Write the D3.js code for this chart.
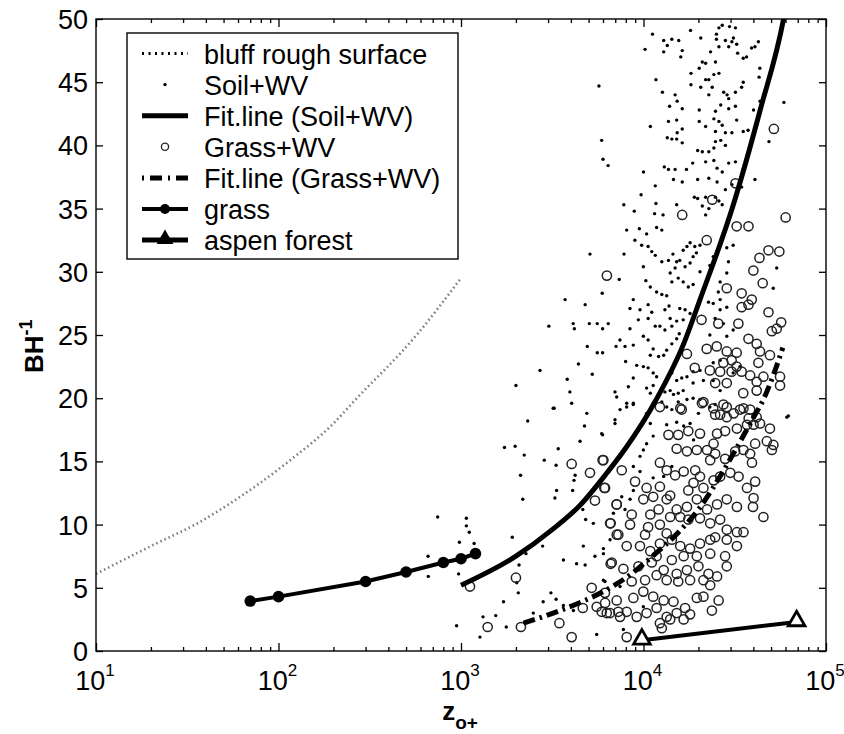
<!DOCTYPE html>
<html>
<head>
<meta charset="utf-8">
<script src="https://cdn.jsdelivr.net/npm/d3@7"></script>
<style>
  body { margin: 0; background: #fff; }
  svg text { font-family: "Liberation Sans", Arial, Helvetica, sans-serif; fill: #000; }
</style>
</head>
<body>
<svg id="chart" width="844" height="734"></svg>
<script>
// ---- data ----
var xTicks = [10, 100, 1000, 10000, 100000];
var xExponents = ["1", "2", "3", "4", "5"];
var yTicks = [0, 5, 10, 15, 20, 25, 30, 35, 40, 45, 50];

var legendLabels = ["bluff rough surface", "Soil+WV", "Fit.line (Soil+WV)", "Grass+WV",
  "Fit.line (Grass+WV)", "grass", "aspen forest"];

// [z_o+, BH^-1]
var bluff = [[10, 6.1], [20, 8.3], [37, 10.2], [56, 11.8], [116, 15.1], [200, 18.0],
  [257, 19.7], [571, 25.0], [1000, 29.5]];

var soilFit = [[1000, 5.2], [2000, 7.5], [3160, 9.6], [4470, 11.5], [6310, 14.1], [7940, 16.0],
  [11750, 19.9], [16600, 24.3], [20400, 27.8], [30900, 35.2], [43600, 42.8], [58900, 50.2], [62000, 52]];

var grassFit = [[2200, 2.2], [3200, 3.0], [4600, 3.9], [6200, 4.8], [8400, 6.0], [11000, 7.4],
  [15800, 9.5], [20000, 11.2], [25000, 13.3], [31600, 15.8], [39800, 18.4], [45400, 19.9],
  [51400, 21.8], [58000, 24.0]];

var grassObs = [[70, 3.95], [100, 4.3], [300, 5.5], [500, 6.25], [800, 7.0], [1000, 7.3], [1200, 7.7]];

var aspen = [[9800, 0.85], [69000, 2.3]];

var soilWV = [
  [11200,48.8],[10200,47.6],[12900,48.3],[14300,48.4],[15600,48.3],[13500,47.9],[12900,47.4],[16300,47.5],
  [16000,47.0],[18100,49.1],[20600,48.5],[23300,47.4],[25100,48.8],[25100,48.4],[25900,49.3],[27000,49.5],
  [29600,49.4],[31900,49.3],[28100,48.3],[29300,47.8],[30500,48.2],[32400,48.0],[31100,48.5],[32800,47.3],
  [35200,46.9],[36700,47.0],[39100,47.7],[40800,47.8],[42600,48.2],[25900,47.8],[21000,46.6],[21900,46.5],
  [24800,46.6],[20200,46.1],[18200,45.7],[21900,45.2],[22800,45.2],[24300,45.6],[25900,45.7],[20600,44.6],
  [23800,44.6],[18200,44.8],[22800,44.0],[27500,44.2],[28700,44.0],[29300,43.7],[31900,44.2],[35200,45.0],
  [34500,44.6],[31900,43.1],[26500,43.2],[29300,42.9],[24800,42.7],[20200,42.8],[15300,43.5],[16300,42.9],
  [13900,43.1],[14900,44.0],[11700,45.2],[12700,44.2],[5700,44.7],[10900,41.5],[13700,41.9],[15200,42.0],
  [16300,41.3],[20200,41.9],[21900,41.5],[24300,42.1],[25900,41.9],[27000,41.6],[24800,41.1],[28100,41.0],
  [30500,41.0],[32400,42.0],[35200,41.1],[37400,41.2],[40100,42.8],[43500,43.5],[43000,45.4],[43400,46.1],
  [58800,43.4],[13500,40.6],[14300,40.5],[15200,40.5],[15300,41.0],[16300,40.2],[19800,39.6],[21000,39.5],
  [22800,39.5],[24300,39.8],[24800,40.3],[26500,40.4],[28100,40.0],[21900,38.7],[24300,38.8],[25300,38.2],
  [27000,37.9],[29300,38.6],[31900,38.7],[35200,38.1],[18600,38.6],[17200,38.1],[14900,38.1],[13700,38.1],
  [13000,38.3],[10000,37.9],[5900,40.4],[6000,38.9],[6400,38.4],[11600,36.8],[14600,37.3],[16300,37.1],
  [19800,37.3],[22800,37.4],[25300,37.1],[28100,36.5],[30500,36.9],[34500,36.7],[40800,37.3],[48700,40.3],
  [19000,35.9],[19800,35.8],[21900,35.9],[24800,35.9],[25900,35.6],[27000,35.3],[22800,35.0],[21000,35.2],
  [21900,34.5],[15200,35.3],[11700,35.4],[9700,36.1],[7800,35.3],[8900,34.8],[11500,34.6],[12800,34.5],
  [8090,33.3],[9490,33.4],[10400,33.0],[11800,33.5],[12600,33.3],[8970,32.5],[9770,32.1],[10600,32.0],
  [11100,31.6],[11600,31.3],[12600,30.8],[13700,30.9],[14500,31.4],[15200,30.8],[15800,30.9],[16500,31.7],
  [17300,32.0],[18000,32.3],[19100,32.0],[20400,32.1],[19500,31.5],[18700,31.2],[18000,30.7],[16900,30.4],
  [14900,30.3],[14000,29.9],[14300,29.2],[15500,29.5],[16500,29.2],[17600,28.8],[18700,29.0],[20400,30.0],
  [23100,30.5],[24100,31.2],[25200,31.6],[26300,32.1],[28600,31.9],[31000,32.1],[29200,30.8],[28600,29.9],
  [26300,29.2],[25700,28.4],[26300,27.8],[28600,27.2],[26300,27.0],[24100,27.5],[22700,27.6],[24700,26.3],
  [27400,25.9],[31000,25.4],[23100,25.0],[5090,31.4],[7820,31.4],[7360,29.4],[9980,30.4],[10300,29.3],
  [10900,28.8],[11800,28.4],[12600,28.2],[13400,28.1],[13800,27.3],[13100,27.0],[15800,27.1],[16900,27.0],
  [18000,26.7],[16500,26.2],[15200,26.1],[14000,26.3],[14300,25.7],[13100,25.4],[12300,25.7],[11600,25.7],
  [10600,26.3],[11100,26.8],[10600,27.4],[9570,27.0],[8790,27.8],[8430,27.1],[9370,26.2],[8430,25.5],
  [7430,24.6],[7070,24.1],[7920,24.1],[8790,24.2],[9980,24.9],[10600,24.6],[11300,23.9],[10900,23.4],
  [12100,23.3],[12900,23.4],[13400,23.8],[14300,24.3],[15200,24.7],[15700,25.1],[5940,28.3],[3720,27.8],
  [4790,27.4],[3030,25.7],[4120,25.9],[4180,25.5],[5050,25.9],[5580,25.9],[5970,25.5],[6410,25.9],
  [4920,24.1],[5580,23.6],[5970,23.6],[4400,22.7],[5240,21.9],[7980,22.9],[9180,22.6],[9980,22.5],
  [10600,22.4],[11300,22.0],[11800,21.7],[14300,22.0],[15200,21.4],[16200,21.6],[17300,21.7],[18700,22.1],
  [20400,22.2],[21300,21.4],[18700,21.2],[16500,20.6],[15500,20.4],[14600,20.3],[14000,20.6],[13100,20.5],
  [11300,21.0],[10400,20.8],[10900,20.4],[11300,19.6],[12600,19.7],[13400,19.3],[14300,19.1],[15500,19.7],
  [17300,19.9],[18700,20.0],[20400,19.9],[2710,22.2],[3820,21.5],[2000,21.0],[3950,20.5],[3240,19.2],
  [4040,19.6],[4890,18.8],[6980,20.5],[7130,20.1],[8090,19.6],[8790,19.5],[8790,21.6],[8260,20.9],
  [20000,18.8],[23100,19.3],[24700,19.5],[26300,20.6],[24100,21.4],[24100,22.8],[26300,23.0],[28600,24.9],
  [31000,22.0],[33800,22.5],[51400,28.7],[53700,30.3],[61000,18.5],
  [3200,19.2],[6980,18.0],[4750,17.8],[2320,18.2],[4490,16.6],[5970,17.1],[1730,16.1],[1980,16.2],
  [2220,15.5],[2860,15.1],[3410,16.0],[3320,14.7],[4220,13.9],[4160,13.5],[2120,13.9],[3340,12.7],
  [4090,12.7],[2180,12.0],[3270,12.1],[745,10.6],[1070,10.5],[1070,9.9],[1110,9.4],[980,8.6],
  [660,7.5],[970,6.1],[1910,9.0],[2800,8.3],[2270,7.7],[4650,11.2],[4820,10.4],[5310,10.1],
  [4680,8.3],[6030,7.7],[5420,7.5],[4300,6.9],[4790,6.8],[3640,7.2],[2080,6.8],[2060,4.6],
  [2020,5.4],[3110,4.6],[3320,4.1],[1710,3.9],[1550,2.8],[1320,2.7],[946,2.0],[1270,1.1],
  [1770,1.9],[2490,3.0],[2820,3.9],[3640,3.6],[4130,3.2],[5540,1.3],[6150,5.5],[662,5.9],[1180,8.5],
  [5900,17.2],[6980,18.3],[7440,19.1],[8090,19.3],[8800,19.6],[10400,18.8],[10900,18.0],[11300,17.0],
  [9980,15.9],[8800,14.6],[9570,14.2],[11300,13.7],[12900,13.8],[14300,14.6],[8800,12.7],[7600,12.2],
  [8440,12.0],[6840,10.9],[7920,11.2],[6030,8.1],[6560,8.8],[6030,5.6],[7440,5.1],[9980,3.5],
  [7760,1.7],[62200,18.6],[13400,17.9],[15200,18.1],[16600,17.8],[18000,18.0],[18800,16.7],[10400,16.4],[9570,15.4]
];

var grassWV = [
  [16300,34.5],[23800,35.7],[31900,37.0],[51800,41.3],[60100,34.3],
  [6300,29.7],[22200,32.5],[32400,33.6],[37600,33.6],[43200,31.1],[48400,31.7],[55500,31.6],[40000,30.1],
  [45000,29.1],[28600,28.7],[34500,28.3],[39200,27.8],[34500,27.2],[37600,27.4],[48400,26.8],[20800,26.2],
  [25700,25.9],[33100,25.9],[56800,26.0],[53700,25.5],[50500,25.3],[37600,24.7],[41700,24.3],[22200,23.9],
  [25200,24.1],[17300,23.5],[28600,23.7],[32400,23.6],[43500,23.7],[49300,23.4],[30400,23.0],[27400,22.8],
  [32400,22.5],[42600,22.8],[19100,22.4],[23100,22.2],[26300,22.1],[30400,22.1],[34500,22.1],[38400,21.8],
  [45400,21.7],[56000,21.7],[24700,21.2],[28600,21.2],[41700,21.3],[56000,21.0],[35200,20.4],[41700,20.6],
  [21300,19.7],[24100,19.2],[27400,19.5],[33800,19.1],[38400,19.1],[16200,19.1],[26300,18.7],[28600,18.5],
  [41700,18.5],[49300,17.6],
  [4040,14.8],[5090,14.1],[5970,15.1],[6100,12.9],[5420,11.9],[7130,11.6],[6610,10.1],[7130,9.2],
  [6610,6.9],[2000,5.8],[1120,5.1],[5200,5.0],[6150,4.6],[5540,3.5],[5900,3.1],[6550,3.0],
  [7280,3.1],[4650,3.4],[3460,2.2],[2130,1.9],[1400,1.9],[4040,1.1],
  [20900,19.6],[24700,18.7],[28600,19.3],[31200,18.8],[35300,19.2],[37700,18.4],[40100,17.9],[43500,18.0],
  [15900,19.2],[12300,19.3],[13700,17.1],[15500,17.1],[17600,17.4],[20400,17.2],[25300,17.2],[28000,17.4],
  [32500,17.6],[36900,17.9],[40900,16.4],[47400,16.6],[51500,16.3],[50500,15.9],[24200,16.4],[15200,16.0],
  [17300,15.8],[19600,15.9],[22300,15.9],[24700,15.6],[28000,15.2],[31800,15.8],[35300,15.9],[38400,15.6],
  [39300,14.9],[23200,15.1],[6030,15.1],[7600,14.3],[12300,14.9],[13400,14.3],[14900,13.9],[16600,14.2],
  [19200,14.3],[20400,13.8],[18800,13.3],[17600,12.7],[21300,12.9],[24200,13.5],[26300,13.8],[29900,14.1],
  [33200,13.8],[36900,12.9],[40900,13.4],[6160,12.9],[8990,13.4],[10400,12.9],[12300,13.0],[14000,12.3],
  [7130,11.6],[8620,10.8],[9980,12.0],[11300,12.2],[13400,12.0],[15200,11.2],[17300,11.4],[19600,12.0],
  [22300,11.2],[25300,11.6],[28600,12.0],[32500,11.4],[40100,12.1],[39800,11.4],[45400,10.6],[6560,10.1],
  [7280,9.2],[8440,10.0],[10900,10.8],[12100,11.2],[10600,9.8],[12300,10.0],[14000,10.6],[15900,10.6],
  [17600,10.4],[20400,10.5],[23200,10.1],[26300,10.4],[28600,9.6],[32500,9.4],[35300,9.4],[10200,9.2],
  [13400,9.3],[8090,8.3],[9570,8.3],[10900,7.9],[12300,8.5],[14300,8.8],[15900,8.3],[18000,8.1],
  [20400,8.5],[23200,8.8],[24700,9.0],[28600,8.8],[32500,8.3],[11800,7.5],[14300,7.2],[16600,7.5],
  [19600,7.5],[23200,7.7],[28000,7.5],[6700,7.0],[7760,6.5],[9380,6.7],[11100,7.0],[12900,6.4],
  [15200,6.1],[17300,6.4],[20000,6.7],[22700,6.1],[25300,5.9],[28600,6.7],[8620,5.5],[10200,5.6],
  [11800,6.0],[13400,5.6],[15500,5.5],[18000,5.6],[21300,5.6],[23200,5.2],[6160,3.8],[7130,4.0],
  [8800,4.2],[9980,4.7],[11300,4.3],[12900,4.0],[14600,3.9],[16900,3.4],[19600,4.2],[21300,4.3],
  [25800,4.0],[23700,3.2],[6290,3.0],[8090,3.1],[9180,2.7],[10400,3.0],[11800,3.4],[13400,2.7],
  [15200,3.0],[18000,2.9],[16600,2.5],[12300,2.2],[12600,1.8],[8090,1.1],[7440,2.7],[14000,2.5]
];

// ---- layout ----
var plotL = 96, plotR = 826, plotT = 19, plotB = 651;

var svg = d3.select("#chart");

var x = d3.scaleLog().domain([10, 100000]).range([plotL, plotR]);
var y = d3.scaleLinear().domain([0, 50]).range([plotB, plotT]);

svg.append("defs").append("clipPath").attr("id", "plotclip")
  .append("rect").attr("x", plotL).attr("y", plotT)
  .attr("width", plotR - plotL).attr("height", plotB - plotT);

var plot = svg.append("g").attr("clip-path", "url(#plotclip)");

var line = d3.line()
  .x(function (d) { return x(d[0]); })
  .y(function (d) { return y(d[1]); });
var smooth = d3.line()
  .x(function (d) { return x(d[0]); })
  .y(function (d) { return y(d[1]); })
  .curve(d3.curveMonotoneX);

// bluff rough surface (grey dotted)
plot.append("path").datum(bluff)
  .attr("d", smooth)
  .attr("fill", "none").attr("stroke", "#7a7a7a")
  .attr("stroke-width", 2.6).attr("stroke-dasharray", "1.5,3");

// Soil+WV points
plot.append("g").selectAll("circle").data(soilWV).enter().append("circle")
  .attr("cx", function (d) { return x(d[0]); })
  .attr("cy", function (d) { return y(d[1]); })
  .attr("r", 1.7).attr("fill", "#000");

// Grass+WV open circles
plot.append("g").selectAll("circle").data(grassWV).enter().append("circle")
  .attr("cx", function (d) { return x(d[0]); })
  .attr("cy", function (d) { return y(d[1]); })
  .attr("r", 4.6).attr("fill", "none")
  .attr("stroke", "#222").attr("stroke-width", 1.5);

// fit lines
plot.append("path").datum(soilFit)
  .attr("d", smooth)
  .attr("fill", "none").attr("stroke", "#000").attr("stroke-width", 5);

plot.append("path").datum(grassFit)
  .attr("d", smooth)
  .attr("fill", "none").attr("stroke", "#000").attr("stroke-width", 5)
  .attr("stroke-dasharray", "12,5,2.5,5");

// grass observations
plot.append("path").datum(grassObs)
  .attr("d", line)
  .attr("fill", "none").attr("stroke", "#000").attr("stroke-width", 4);
plot.append("g").selectAll("circle").data(grassObs).enter().append("circle")
  .attr("cx", function (d) { return x(d[0]); })
  .attr("cy", function (d) { return y(d[1]); })
  .attr("r", 5.8).attr("fill", "#000");

// aspen forest
plot.append("path").datum(aspen)
  .attr("d", line)
  .attr("fill", "none").attr("stroke", "#000").attr("stroke-width", 4);
var tri = d3.symbol().type(d3.symbolTriangle).size(120);
plot.append("g").selectAll("path").data(aspen).enter().append("path")
  .attr("d", tri)
  .attr("transform", function (d) { return "translate(" + x(d[0]) + "," + (y(d[1]) - 1) + ")"; })
  .attr("fill", "#fff").attr("stroke", "#000").attr("stroke-width", 2.8);

// ---- axes (MATLAB box with inward ticks) ----
var minor = x.ticks().filter(function (v) { return xTicks.indexOf(v) < 0; });

function styleAxis(g) {
  g.select(".domain").remove();
  g.selectAll("line").attr("stroke", "#000").attr("stroke-width", 1.3);
  g.selectAll("text").remove();
}

svg.append("g").attr("transform", "translate(0," + plotB + ")")
  .call(d3.axisBottom(x).tickValues(xTicks).tickSize(-8)).call(styleAxis);
svg.append("g").attr("transform", "translate(0," + plotB + ")")
  .call(d3.axisBottom(x).tickValues(minor).tickSize(-4)).call(styleAxis);
svg.append("g").attr("transform", "translate(0," + plotT + ")")
  .call(d3.axisTop(x).tickValues(xTicks).tickSize(-8)).call(styleAxis);
svg.append("g").attr("transform", "translate(0," + plotT + ")")
  .call(d3.axisTop(x).tickValues(minor).tickSize(-4)).call(styleAxis);
svg.append("g").attr("transform", "translate(" + plotL + ",0)")
  .call(d3.axisLeft(y).tickValues(yTicks).tickSize(-7)).call(styleAxis);
svg.append("g").attr("transform", "translate(" + plotR + ",0)")
  .call(d3.axisRight(y).tickValues(yTicks).tickSize(-7)).call(styleAxis);

svg.append("rect")
  .attr("x", plotL).attr("y", plotT)
  .attr("width", plotR - plotL).attr("height", plotB - plotT)
  .attr("fill", "none").attr("stroke", "#000").attr("stroke-width", 1.4);

// tick labels
svg.append("g").selectAll("text").data(yTicks).enter().append("text")
  .attr("x", plotL - 8)
  .attr("y", function (d) { return y(d) + 10; })
  .attr("text-anchor", "end")
  .attr("font-size", 27)
  .text(function (d) { return d; });

var xl = svg.append("g").selectAll("text").data(xTicks).enter().append("text")
  .attr("x", function (d) { return x(d) - 1; })
  .attr("y", 690)
  .attr("text-anchor", "middle")
  .attr("font-size", 27);
xl.append("tspan").text("10");
xl.append("tspan").attr("dy", -14).attr("font-size", 17)
  .text(function (d, i) { return xExponents[i]; });

// axis titles
var xt = svg.append("text")
  .attr("x", 460).attr("y", 720)
  .attr("text-anchor", "middle")
  .attr("font-size", 26).attr("font-weight", "bold");
xt.append("tspan").text("z");
xt.append("tspan").attr("dy", 9).attr("font-size", 19).text("o+");

var yt = svg.append("text")
  .attr("transform", "translate(43,373) rotate(-90)")
  .attr("font-size", 26).attr("font-weight", "bold");
yt.append("tspan").text("BH");
yt.append("tspan").attr("dy", -11).attr("font-size", 18).text("-1");

// ---- legend ----
var lg = svg.append("g");
lg.append("rect")
  .attr("x", 127).attr("y", 33).attr("width", 331).attr("height", 226)
  .attr("fill", "#fff").attr("stroke", "#000").attr("stroke-width", 1.4);

var rowY = function (i) { return 53.5 + i * 31.1; };
var sx0 = 142, sx1 = 188, sxm = 165;

lg.selectAll("text").data(legendLabels).enter().append("text")
  .attr("x", 204)
  .attr("y", function (d, i) { return rowY(i) + 10; })
  .attr("font-size", 27)
  .text(function (d) { return d; });

function sample(i, w, dash) {
  var s = lg.append("line")
    .attr("x1", sx0).attr("x2", sx1)
    .attr("y1", rowY(i)).attr("y2", rowY(i))
    .attr("stroke", "#000").attr("stroke-width", w);
  if (dash) s.attr("stroke-dasharray", dash);
  return s;
}
sample(0, 3, "2,4.5");
lg.append("circle").attr("cx", sxm).attr("cy", rowY(1)).attr("r", 1.7).attr("fill", "#000");
sample(2, 5);
lg.append("circle").attr("cx", sxm).attr("cy", rowY(3)).attr("r", 3.6)
  .attr("fill", "none").attr("stroke", "#222").attr("stroke-width", 1.3);
sample(4, 5, "2,6,12,6");
sample(5, 4);
lg.append("circle").attr("cx", sxm).attr("cy", rowY(5)).attr("r", 5).attr("fill", "#000");
sample(6, 5);
lg.append("path").attr("d", d3.symbol().type(d3.symbolTriangle).size(120))
  .attr("transform", "translate(" + sxm + "," + (rowY(6) - 1) + ")")
  .attr("fill", "#000");
</script>
</body>
</html>
